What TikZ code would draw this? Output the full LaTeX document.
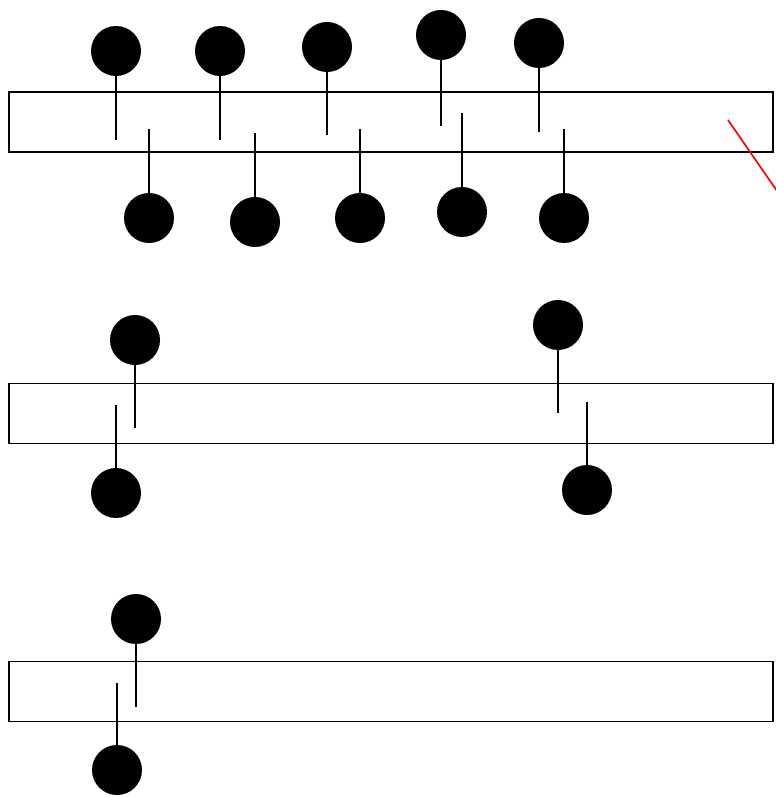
\documentclass[tikz,border=0pt]{standalone}
\usetikzlibrary{positioning}
\tikzset{
  bead/.style={circle, fill=black, inner sep=0pt, minimum size=1.5cm},
  strip/.style={draw, line width=0.045cm, inner sep=0pt, minimum width=22.92cm, minimum height=1.8cm},
  stick/.style={line width=0.04cm},
}
\begin{document}
\begin{tikzpicture}[x=0.03cm, y=-0.03cm]
  \useasboundingbox (0,0) rectangle (775,797);

  % Strips
  \node[strip] (strip1) at (391,122) {};
  \node[strip] (strip2) at (391,413.5) {};
  \node[strip] (strip3) at (391,691.5) {};

  % Top strip: beads above
  \foreach \n/\x/\y/\e in {1/116/51/140, 2/220/51/140, 3/327/47/135, 4/441/35/126, 5/539/43/132}{
    \node[bead] (topup\n) at (\x,\y) {};
    \coordinate (topupend\n) at (\x,\e);
    \draw[stick] (topup\n) -- (topupend\n);
  }
  % Top strip: beads below
  \foreach \n/\x/\y/\e in {1/149/218/129, 2/255/222/133, 3/360/218/129, 4/462/212/113, 5/564/218/129}{
    \node[bead] (topdown\n) at (\x,\y) {};
    \coordinate (topdownend\n) at (\x,\e);
    \draw[stick] (topdown\n) -- (topdownend\n);
  }

  % Middle strip
  \foreach \n/\x/\y/\e in {1/135/340/428, 2/558/325/413}{
    \node[bead] (midup\n) at (\x,\y) {};
    \coordinate (midupend\n) at (\x,\e);
    \draw[stick] (midup\n) -- (midupend\n);
  }
  \foreach \n/\x/\y/\e in {1/116/493/405, 2/587/490/402}{
    \node[bead] (middown\n) at (\x,\y) {};
    \coordinate (middownend\n) at (\x,\e);
    \draw[stick] (middown\n) -- (middownend\n);
  }

  % Bottom strip
  \node[bead] (lowup) at (136,619) {};
  \coordinate (lowupend) at (136,707);
  \draw[stick] (lowup) -- (lowupend);
  \node[bead] (lowdown) at (117,770) {};
  \coordinate (lowdownend) at (117,683);
  \draw[stick] (lowdown) -- (lowdownend);

  % Red cut
  \coordinate (cutstart) at (728,120);
  \coordinate (cutend) at (777,191);
  \draw[red, line width=0.05cm] (cutstart) -- (cutend);
\end{tikzpicture}
\end{document}
